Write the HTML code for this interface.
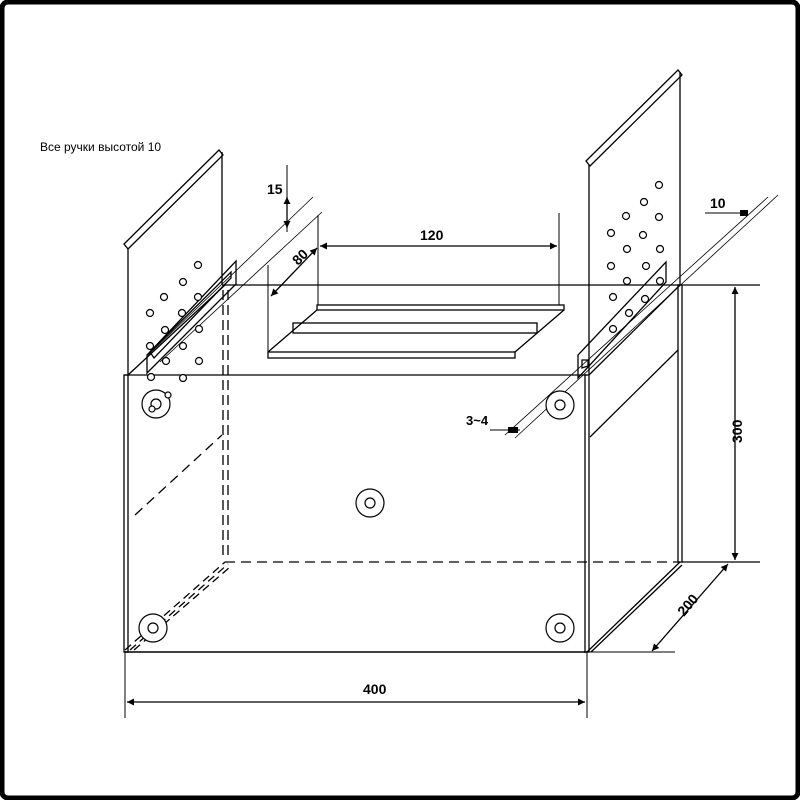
<!DOCTYPE html>
<html><head><meta charset="utf-8"><style>
html,body{margin:0;padding:0;background:#fff}
svg{display:block}
text{font-family:"Liberation Sans",Arial,sans-serif;fill:#000}
</style></head><body>
<svg width="800" height="800" viewBox="0 0 800 800" xmlns="http://www.w3.org/2000/svg">
<defs>
<marker id="a" viewBox="0 0 10 10" refX="10" refY="5" markerWidth="13" markerHeight="7" orient="auto-start-reverse" markerUnits="userSpaceOnUse"><path d="M0,0L10,5L0,10z" fill="#000"/></marker>
</defs>
<rect x="2" y="2" width="796" height="796" rx="6" fill="#fff" stroke="#000" stroke-width="5"/>
<text x="40" y="151" font-size="12">Все ручки высотой 10</text>
<g stroke="#000" fill="none" stroke-width="1.3">
<line x1="125" y1="375" x2="587" y2="375"/>
<line x1="125" y1="652" x2="587" y2="652" stroke-width="1.6"/>
<rect x="124" y="375" width="4" height="277"/>
<rect x="585" y="375" width="4" height="277"/>
<line x1="222" y1="285" x2="760" y2="285"/>
<rect x="678" y="285" width="4" height="277"/>
<line x1="225" y1="562" x2="678" y2="562" stroke-dasharray="10,6"/>
<line x1="682" y1="562" x2="760" y2="562"/>
<line x1="223" y1="290" x2="223" y2="560" stroke-dasharray="10,5"/>
<line x1="228" y1="290" x2="228" y2="560" stroke-dasharray="10,5"/>
<line x1="128" y1="375" x2="225" y2="285"/>
<line x1="125" y1="650" x2="225" y2="562" stroke-dasharray="8,5"/>
<line x1="130" y1="650" x2="228" y2="564" stroke-dasharray="8,5"/>
<line x1="134" y1="650" x2="230" y2="567" stroke-dasharray="8,5"/>
<line x1="135" y1="515" x2="222" y2="435" stroke-dasharray="10,6"/>
<line x1="589" y1="375" x2="680" y2="285"/>
<line x1="587" y1="652" x2="680" y2="562"/>
<line x1="591" y1="652" x2="682" y2="565"/>
<line x1="590" y1="437" x2="678" y2="350"/>
<line x1="128" y1="248" x2="128" y2="375"/>
<line x1="222" y1="152" x2="222" y2="285"/>
<path d="M124,244 L219,150 L223,155 L128,249 Z"/>
<line x1="589" y1="165" x2="589" y2="375"/>
<line x1="680" y1="72" x2="680" y2="285"/>
<path d="M586,161 L678,70 L682,75 L590,166 Z"/>
<path d="M147,373 L147,355 L236,261 L236,284 Z"/>
<path d="M150,352 L231,272 L231,278 L154,358 Z"/>
<path d="M578,378 L578,355 L666,262 L666,282 Z"/>
<path d="M582,368 L582,360 L588,360 L588,366 Z"/>
<line x1="148" y1="355" x2="313" y2="197" stroke-width="0.8"/>
<line x1="160" y1="362" x2="322" y2="212" stroke-width="0.8"/>
<line x1="505" y1="435" x2="768" y2="197" stroke-width="0.8"/>
<line x1="515" y1="438" x2="778" y2="195" stroke-width="0.8"/>
<rect x="317" y="305" width="247" height="5"/>
<rect x="293" y="323" width="244" height="10"/>
<rect x="268" y="352" width="247" height="6"/>
<line x1="268" y1="352" x2="317" y2="310"/>
<line x1="515" y1="352" x2="564" y2="310"/>
<line x1="268" y1="265" x2="268" y2="352" stroke-width="1"/>
<line x1="318" y1="215" x2="318" y2="305" stroke-width="1"/>
<line x1="559" y1="213" x2="559" y2="305" stroke-width="1"/>
<line x1="287" y1="165" x2="287" y2="232" stroke-width="1"/>
<line x1="320" y1="246" x2="557" y2="246" marker-start="url(#a)" marker-end="url(#a)"/>
<line x1="271" y1="296" x2="317" y2="248" marker-start="url(#a)" marker-end="url(#a)"/>
<line x1="287" y1="211" x2="287" y2="197" marker-end="url(#a)"/>
<line x1="287" y1="211" x2="287" y2="228" marker-end="url(#a)"/>
<line x1="735" y1="287" x2="735" y2="560" marker-start="url(#a)" marker-end="url(#a)"/>
<line x1="127" y1="702" x2="585" y2="702" marker-start="url(#a)" marker-end="url(#a)"/>
<line x1="125" y1="652" x2="125" y2="718" stroke-width="1"/>
<line x1="587" y1="652" x2="587" y2="718" stroke-width="1"/>
<line x1="589" y1="652" x2="675" y2="652" stroke-width="1"/>
<line x1="728" y1="564" x2="652" y2="651" marker-start="url(#a)" marker-end="url(#a)"/>
<line x1="705" y1="213" x2="748" y2="213" stroke-width="1"/>
<line x1="490" y1="430" x2="520" y2="430" stroke-width="1"/>
</g>
<g fill="#000"><rect x="740" y="210" width="8" height="6"/><rect x="508" y="427" width="10" height="6"/></g>
<g stroke="#000" fill="#fff" stroke-width="1.2">
<circle cx="198" cy="265" r="3.5"/><circle cx="183" cy="282" r="3.5"/><circle cx="164" cy="297" r="3.5"/><circle cx="198" cy="297" r="3.5"/>
<circle cx="150" cy="313" r="3.5"/><circle cx="182" cy="313" r="3.5"/><circle cx="165" cy="330" r="3.5"/><circle cx="199" cy="329" r="3.5"/>
<circle cx="150" cy="346" r="3.5"/><circle cx="183" cy="346" r="3.5"/><circle cx="166" cy="361" r="3.5"/><circle cx="199" cy="361" r="3.5"/>
<circle cx="151" cy="377" r="3.5"/><circle cx="183" cy="378" r="3.5"/>
<circle cx="659" cy="185" r="3.5"/><circle cx="644" cy="202" r="3.5"/><circle cx="626" cy="216" r="3.5"/><circle cx="659" cy="217" r="3.5"/>
<circle cx="611" cy="233" r="3.5"/><circle cx="643" cy="235" r="3.5"/><circle cx="627" cy="249" r="3.5"/><circle cx="660" cy="249" r="3.5"/>
<circle cx="611" cy="266" r="3.5"/><circle cx="646" cy="266" r="3.5"/><circle cx="627" cy="281" r="3.5"/><circle cx="660" cy="281" r="3.5"/>
<circle cx="613" cy="297" r="3.5"/><circle cx="645" cy="299" r="3.5"/><circle cx="629" cy="313" r="3.5"/><circle cx="613" cy="329" r="3.5"/>
<circle cx="156" cy="404" r="14"/><circle cx="156" cy="404" r="5"/><circle cx="168" cy="395" r="3"/><circle cx="152" cy="409" r="3"/>
<circle cx="560" cy="405" r="14"/><circle cx="560" cy="405" r="5"/>
<circle cx="370" cy="503" r="14"/><circle cx="370" cy="503" r="5"/>
<circle cx="560" cy="628" r="14"/><circle cx="560" cy="628" r="5"/>
<circle cx="153" cy="628" r="14"/><circle cx="153" cy="628" r="5"/>
</g>
<g font-weight="bold" font-size="14">
<text x="420" y="240">120</text>
<text x="267" y="194">15</text>
<text x="710" y="208">10</text>
<text x="466" y="425" font-size="13">3~4</text>
<text x="363" y="694">400</text>
<text transform="translate(742,443) rotate(-90)">300</text>
<text transform="translate(298,266) rotate(-45)">80</text>
<text transform="translate(684,617) rotate(-50)">200</text>
</g>
</svg>
</body></html>
